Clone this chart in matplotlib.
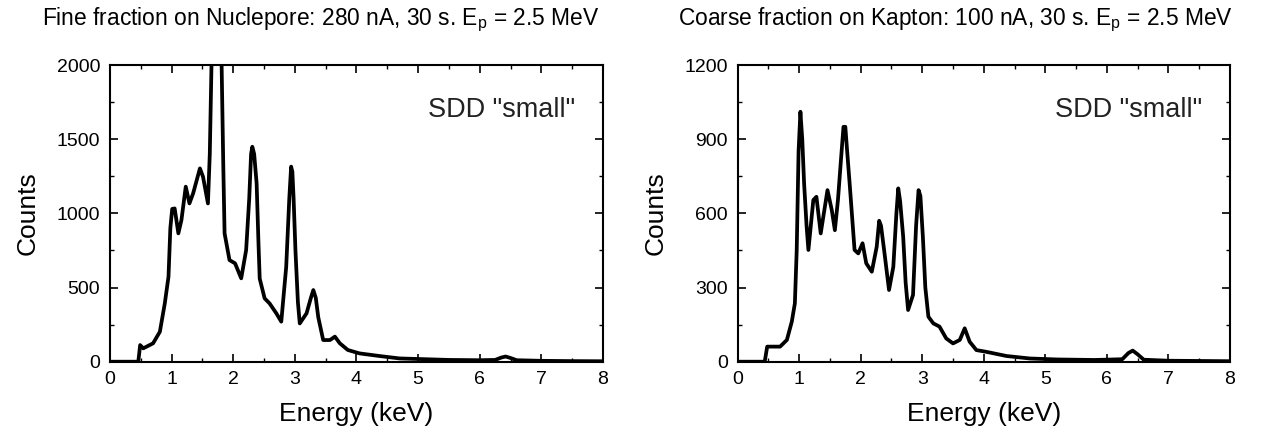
import matplotlib
matplotlib.use("Agg")
import matplotlib.pyplot as plt
from matplotlib.ticker import MultipleLocator

plt.rcParams['font.family'] = ['Liberation Sans', 'DejaVu Sans']
plt.rcParams['mathtext.fontset'] = 'custom'
plt.rcParams['mathtext.rm'] = 'Liberation Sans'
plt.rcParams['mathtext.it'] = 'Liberation Sans'
plt.rcParams['mathtext.default'] = 'regular'

# fine fraction (Nuclepore) spectrum
fine_energy = [0.0, 0.46, 0.49, 0.54, 0.70, 0.81, 0.89, 0.95, 0.98, 1.01, 1.05, 1.08,
               1.11, 1.16, 1.23, 1.29, 1.35, 1.46, 1.51, 1.59, 1.62, 1.65, 1.70, 1.74,
               1.78, 1.81, 1.84, 1.86, 1.94, 2.03, 2.13, 2.21, 2.26, 2.29, 2.31, 2.34,
               2.38, 2.41, 2.43, 2.51, 2.59, 2.70, 2.78, 2.86, 2.91, 2.94, 2.96, 2.98,
               3.01, 3.05, 3.08, 3.19, 3.26, 3.30, 3.34, 3.38, 3.46, 3.57, 3.65, 3.73,
               3.86, 4.05, 4.38, 4.70, 5.02, 5.5, 6.0, 6.25, 6.35, 6.42, 6.50, 6.6,
               7.0, 7.5, 8.0]
fine_counts = [0, 0, 112, 90, 124, 202, 393, 573, 900, 1030, 1033, 950,
               865, 955, 1180, 1067, 1135, 1303, 1247, 1067, 1400, 2050, 3500, 4500,
               3500, 2050, 1300, 865, 685, 663, 562, 753, 1100, 1400, 1449, 1400,
               1202, 800, 560, 427, 393, 326, 270, 640, 1100, 1315, 1280, 1100,
               750, 400, 258, 326, 430, 483, 430, 300, 146, 146, 169, 124,
               79, 56, 38, 22, 18, 12, 10, 12, 28, 35, 25, 10,
               6, 4, 3]

# coarse fraction (Kapton) spectrum
coarse_energy = [0.0, 0.44, 0.48, 0.69, 0.80, 0.88, 0.93, 0.96, 0.99, 1.02, 1.05, 1.08,
                 1.12, 1.15, 1.23, 1.28, 1.35, 1.46, 1.53, 1.58, 1.63, 1.68, 1.72, 1.75,
                 1.78, 1.82, 1.90, 1.96, 2.03, 2.09, 2.18, 2.26, 2.30, 2.33, 2.38, 2.46,
                 2.53, 2.58, 2.61, 2.64, 2.69, 2.73, 2.77, 2.85, 2.90, 2.94, 2.97, 3.01,
                 3.05, 3.10, 3.18, 3.28, 3.39, 3.50, 3.61, 3.69, 3.77, 3.88, 4.04, 4.37,
                 4.75, 5.2, 5.8, 6.25, 6.35, 6.42, 6.50, 6.6, 7.0, 7.5, 8.0]
coarse_counts = [0, 0, 61, 61, 88, 162, 236, 452, 850, 1011, 900, 721,
                 550, 452, 654, 667, 519, 694, 613, 532, 654, 820, 950, 950,
                 850, 721, 452, 438, 479, 398, 364, 465, 570, 550, 452, 290,
                 384, 600, 701, 650, 506, 320, 209, 270, 550, 694, 670, 506,
                 300, 182, 155, 142, 94, 74, 88, 135, 81, 47, 40, 23,
                 13, 9, 7, 10, 35, 45, 30, 8, 4, 3, 2]

titles = ['Fine fraction on Nuclepore: 280 nA, 30 s. E$_p$ = 2.5 MeV',
          'Coarse fraction on Kapton: 100 nA, 30 s. E$_p$ = 2.5 MeV']

fig = plt.figure(figsize=(12.74, 4.36), dpi=100)
ax1 = fig.add_axes([0.0863, 0.1704, 0.387, 0.6805])
ax2 = fig.add_axes([0.579, 0.1704, 0.3864, 0.6805])


def style(ax, ymax, ymajor, label_y):
    ax.set_xlim(0, 8)
    ax.set_ylim(0, ymax)
    ax.xaxis.set_major_locator(MultipleLocator(1))
    ax.xaxis.set_minor_locator(MultipleLocator(0.5))
    ax.yaxis.set_major_locator(MultipleLocator(ymajor))
    ax.yaxis.set_minor_locator(MultipleLocator(ymajor / 2))
    ax.tick_params(which='both', direction='in', top=True, right=True, labelsize=14, pad=7)
    ax.tick_params(which='major', length=6, width=1.2)
    ax.tick_params(which='minor', length=3, width=1.0)
    for sp in ax.spines.values():
        sp.set_linewidth(1.5)
    ax.set_xlabel('Energy (keV)', fontsize=19, labelpad=10)
    ax.set_ylabel('Counts', fontsize=19, labelpad=12)
    ax.text(7.55, label_y, 'SDD "small"', ha='right', va='center', fontsize=19.5, color='#222222')


ax1.plot(fine_energy, fine_counts, color='black', lw=2.7, solid_joinstyle='round')
style(ax1, 2000, 500, 1696)

ax2.plot(coarse_energy, coarse_counts, color='black', lw=2.7, solid_joinstyle='round')
style(ax2, 1200, 300, 1018)

fig.text(321 / 1274, 1 - 20 / 436, titles[0], ha='center', va='center', fontsize=16.4)
fig.text(955 / 1274, 1 - 20 / 436, titles[1], ha='center', va='center', fontsize=16.4)

fig.savefig('out.png', dpi=100)
